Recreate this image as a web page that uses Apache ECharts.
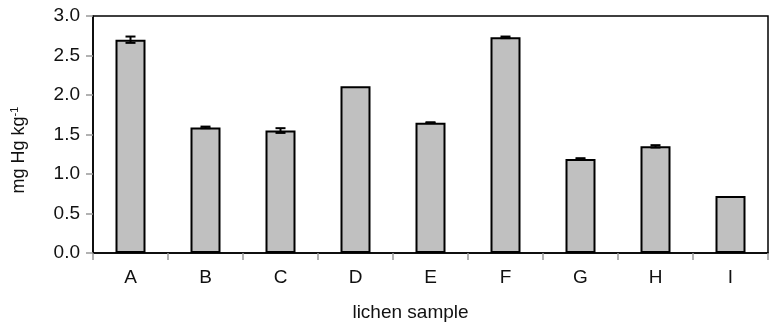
<!DOCTYPE html>
<html>
<head>
<meta charset="utf-8">
<script src="https://cdn.jsdelivr.net/npm/echarts@6/dist/echarts.min.js"></script>
<style>
  html, body { margin: 0; padding: 0; background: #fff; }
  #chart-panel { width: 770px; height: 325px; }
</style>
</head>
<body>
<div id="chart-panel"></div>
<script>
// samples and values
var samples = ['A', 'B', 'C', 'D', 'E', 'F', 'G', 'H', 'I'];
var hgValues = [2.70, 1.59, 1.55, 2.11, 1.65, 2.73, 1.19, 1.35, 0.72];
var hgErrors = [0.04, 0.01, 0.03, 0, 0.005, 0.01, 0.01, 0.015, 0];

var chart = echarts.init(document.getElementById('chart-panel'));

// error bar data: [index, low, high]
var errData = [];
for (var i = 0; i < samples.length; i++) {
    errData.push([i, hgValues[i] - hgErrors[i], hgValues[i] + hgErrors[i]]);
}

function renderErrorBar(params, api) {
    var lo = api.coord([api.value(0), api.value(1)]);
    var hi = api.coord([api.value(0), api.value(2)]);
    if (Math.abs(hi[1] - lo[1]) < 0.5) {
        return null;
    }
    var half = 5;
    var style = { stroke: '#000', lineWidth: 2 };
    return {
        type: 'group',
        children: [
            { type: 'line', shape: { x1: hi[0], y1: hi[1], x2: lo[0], y2: lo[1] }, style: style },
            { type: 'line', shape: { x1: hi[0] - half, y1: hi[1], x2: hi[0] + half, y2: hi[1] }, style: style },
            { type: 'line', shape: { x1: lo[0] - half, y1: lo[1], x2: lo[0] + half, y2: lo[1] }, style: style }
        ]
    };
}

var option = {
    backgroundColor: '#fff',
    animation: false,
    textStyle: { fontFamily: 'Liberation Sans, Arial, sans-serif' },
    grid: {
        left: 93,
        right: 2,
        top: 16,
        bottom: 72,
        outerBoundsMode: 'none',
        containLabel: false,
        show: true,
        borderColor: '#000',
        borderWidth: 1.5
    },
    xAxis: {
        type: 'category',
        data: samples,
        name: 'lichen sample',
        nameLocation: 'middle',
        nameGap: 50,
        nameTextStyle: { fontSize: 19, color: '#111', padding: [0, 40, 0, 0] },
        axisLine: { lineStyle: { color: '#000', width: 1.5 } },
        axisTick: { show: true, length: 7, lineStyle: { color: '#999', width: 1.5 } },
        axisLabel: { fontSize: 19, color: '#111', margin: 15 }
    },
    yAxis: {
        type: 'value',
        min: 0,
        max: 3,
        interval: 0.5,
        name: 'mg Hg kg{sup|-1}',
        nameLocation: 'middle',
        nameGap: 64,
        nameRotate: 90,
        nameTextStyle: {
            fontSize: 18,
            color: '#111',
            padding: [0, 31, 0, 0],
            rich: {
                sup: { fontSize: 11, verticalAlign: 'top', padding: [0, 0, 9, 0], color: '#111' }
            }
        },
        splitLine: { show: false },
        axisLine: { show: true, lineStyle: { color: '#000', width: 1.5 } },
        axisTick: { show: true, length: 7, lineStyle: { color: '#999', width: 1.5 } },
        axisLabel: {
            fontSize: 19,
            color: '#111',
            margin: 13,
            formatter: function (v) { return v.toFixed(1); }
        }
    },
    series: [
        {
            name: 'Hg',
            type: 'bar',
            data: hgValues,
            barWidth: '40%',
            itemStyle: { color: '#c0c0c0', borderColor: '#000', borderWidth: 2 }
        },
        {
            name: 'error',
            type: 'custom',
            renderItem: renderErrorBar,
            data: errData,
            z: 10
        }
    ]
};

chart.setOption(option);
</script>
</body>
</html>
